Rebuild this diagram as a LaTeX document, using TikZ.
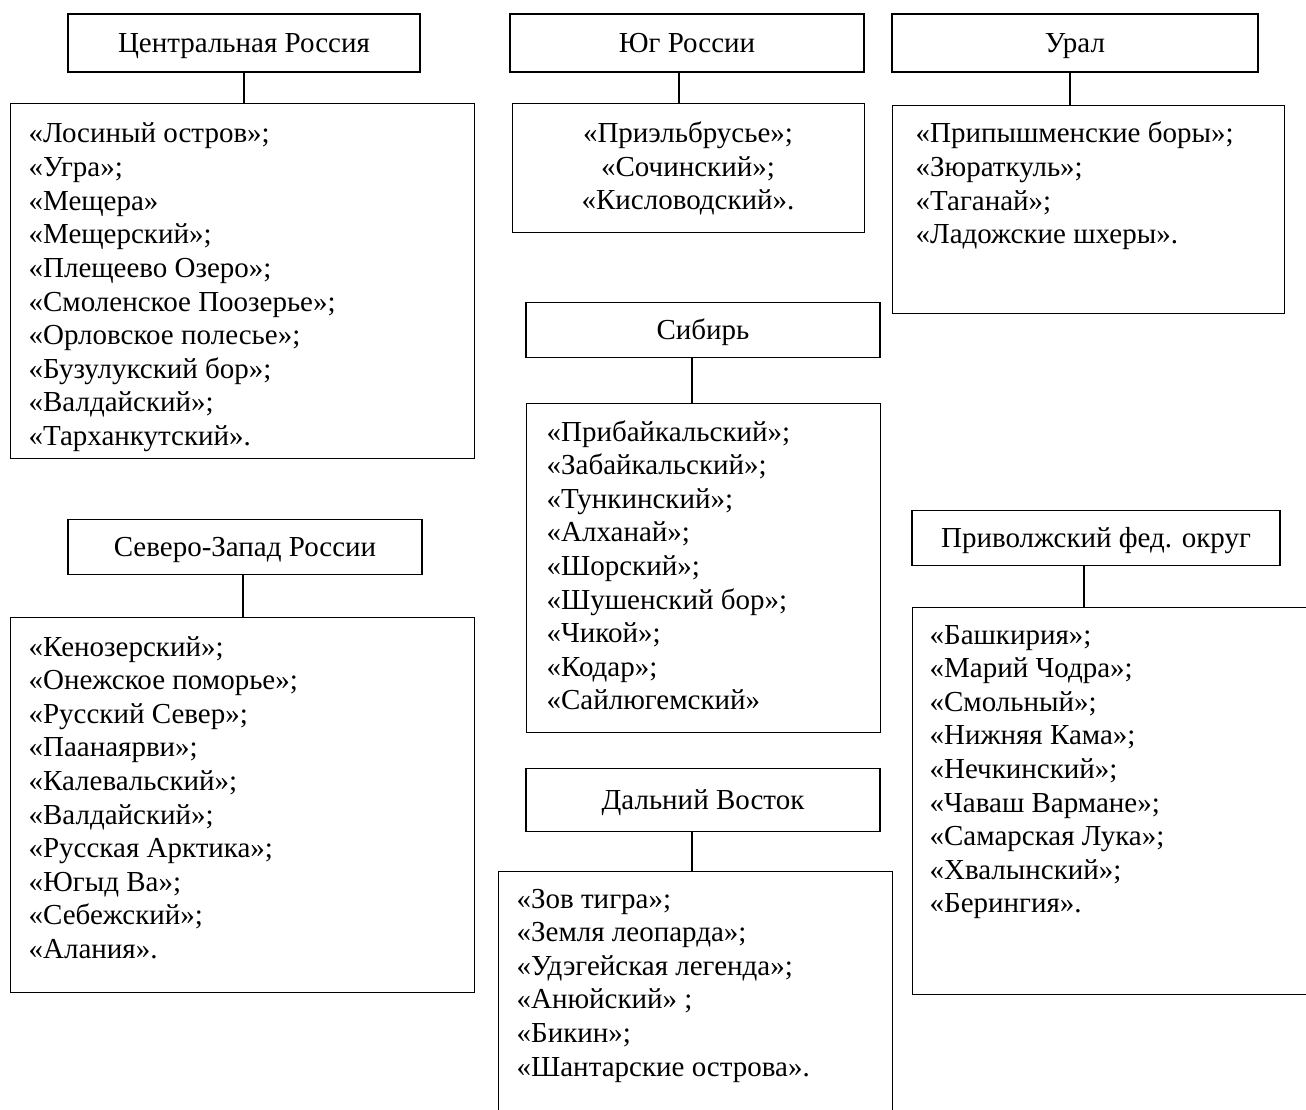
\documentclass[tikz,border=0pt]{standalone}
\usepackage{fontspec}
\setmainfont{Liberation Serif}
\usetikzlibrary{calc}

\begin{document}
\begin{tikzpicture}[
        x=1pt, y=-1pt,
        line width=1.2pt,
        hdr/.style={draw, rectangle, minimum height=58pt, inner sep=0pt,
            text height=19pt, text depth=0pt,
            font=\fontsize{29}{34}\selectfont},
        listbox/.style={draw, rectangle, anchor=north west, inner sep=0pt},
        item/.style={anchor=base west, inner sep=0pt,
            font=\fontsize{29}{34}\selectfont},
    ]
\useasboundingbox (0,0) rectangle (1306,1110);

% Central Russia
\node[hdr, minimum width=352pt] (central) at (244,43) {Центральная Россия};
\node[listbox, minimum width=464pt, minimum height=355pt] (centralbox) at (10,103) {};
\draw (central.south) -- (central.south |- centralbox.north);
\foreach \t [count=\i] in {«Лосиный остров»;, «Угра»;, «Мещера», «Мещерский»;,
        «Плещеево Озеро»;, «Смоленское Поозерье»;, «Орловское полесье»;,
        «Бузулукский бор»;, «Валдайский»;, «Тарханкутский».}
    \node[item] (ci\i) at (28,{143+(\i-1)*33.6}) {\t};

% South
\node[hdr, minimum width=354pt] (south) at (687,43) {Юг России};
\node[listbox, minimum width=352pt, minimum height=129pt] (southbox) at (512,103) {};
\draw ([xshift=-8pt]south.south) -- ([xshift=-8pt]south.south |- southbox.north);
\foreach \t [count=\i] in {«Приэльбрусье»;, «Сочинский»;, «Кисловодский».}
    \node[item, anchor=base] (si\i) at (688,{143+(\i-1)*33.2}) {\t};

% Ural
\node[hdr, minimum width=366pt] (ural) at (1075,43) {Урал};
\node[listbox, minimum width=392pt, minimum height=208pt] (uralbox) at (892,105) {};
\draw ([xshift=-5pt]ural.south) -- ([xshift=-5pt]ural.south |- uralbox.north);
\foreach \t [count=\i] in {«Припышменские боры»;, «Зюраткуль»;, «Таганай»;,
        «Ладожские шхеры».}
    \node[item] (ui\i) at (915,{143+(\i-1)*33.6}) {\t};

% Siberia
\node[hdr, minimum width=354pt, minimum height=55pt] (siberia) at (703,330) {Сибирь};
\node[listbox, minimum width=354pt, minimum height=329pt] (siberiabox) at (526,403) {};
\draw ([xshift=-11pt]siberia.south) -- ([xshift=-11pt]siberia.south |- siberiabox.north);
\foreach \t [count=\i] in {«Прибайкальский»;, «Забайкальский»;, «Тункинский»;,
        «Алханай»;, «Шорский»;, «Шушенский бор»;, «Чикой»;, «Кодар»;,
        «Сайлюгемский»}
    \node[item] (bi\i) at (546,{441+(\i-1)*33.6}) {\t};

% North-West
\node[hdr, minimum width=354pt, minimum height=55pt] (northwest) at (245,547) {Северо-Запад России};
\node[listbox, minimum width=464pt, minimum height=375pt] (northwestbox) at (10,617) {};
\draw ([xshift=-2pt]northwest.south) -- ([xshift=-2pt]northwest.south |- northwestbox.north);
\foreach \t [count=\i] in {«Кенозерский»;, «Онежское поморье»;, «Русский Север»;,
        «Паанаярви»;, «Калевальский»;, «Валдайский»;, «Русская Арктика»;,
        «Югыд Ва»;, «Себежский»;, «Алания».}
    \node[item] (ni\i) at (28,{656+(\i-1)*33.6}) {\t};

% Far East
\node[hdr, minimum width=354pt, minimum height=63pt] (fareast) at (703,800) {Дальний Восток};
\node[listbox, minimum width=394pt, minimum height=270pt] (fareastbox) at (498,871) {};
\draw ([xshift=-11pt]fareast.south) -- ([xshift=-11pt]fareast.south |- fareastbox.north);
\foreach \t [count=\i] in {«Зов тигра»;, «Земля леопарда»;, «Удэгейская легенда»;,
        «Анюйский» ;, «Бикин»;, «Шантарские острова».}
    \node[item] (fi\i) at (516,{908+(\i-1)*33.6}) {\t};

% Volga federal district
\node[hdr, minimum width=368pt, minimum height=55pt] (volga) at (1096,538) {Приволжский фед. округ};
\node[listbox, minimum width=420pt, minimum height=387pt] (volgabox) at (912,607) {};
\draw ([xshift=-12pt]volga.south) -- ([xshift=-12pt]volga.south |- volgabox.north);
\foreach \t [count=\i] in {«Башкирия»;, «Марий Чодра»;, «Смольный»;,
        «Нижняя Кама»;, «Нечкинский»;, «Чаваш Вармане»;, «Самарская Лука»;,
        «Хвалынский»;, «Берингия».}
    \node[item] (vi\i) at (929,{644+(\i-1)*33.6}) {\t};
\end{tikzpicture}
\end{document}
